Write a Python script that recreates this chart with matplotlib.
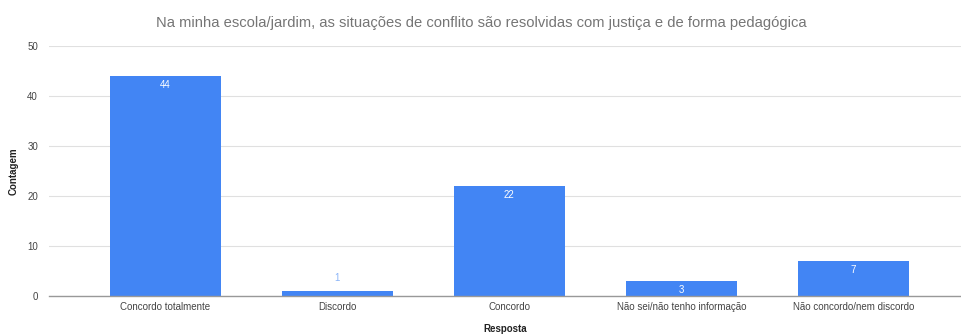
import matplotlib.pyplot as plt

categorias = ["Concordo totalmente", "Discordo", "Concordo",
              "Não sei/não tenho informação", "Não concordo/nem discordo"]
contagem = [44, 1, 22, 3, 7]
yticks = [0, 10, 20, 30, 40, 50]

plt.rcParams['font.family'] = ['Liberation Sans', 'DejaVu Sans']

fig = plt.figure(figsize=(9.62, 3.34), dpi=100)
ax = fig.add_axes([0.051, 0.1138, 0.949, 0.7485])

x = list(range(len(categorias)))
ax.bar(x, contagem, width=0.645, color="#4285F4", zorder=3)

for xi, v in zip(x, contagem):
    if v >= 3:
        ax.annotate(str(v), (xi, v), xytext=(0, -3), textcoords="offset points",
                    ha="center", va="top", fontsize=7, color="white", zorder=4)
    else:
        ax.annotate(str(v), (xi, v), xytext=(0, 6), textcoords="offset points",
                    ha="center", va="bottom", fontsize=7, color="#8AB4F8", zorder=4)

ax.set_xlim(-0.674, 4.63)
ax.set_ylim(0, 50)
ax.set_yticks(yticks)
ax.set_xticks(x)
ax.set_xticklabels(categorias)
ax.tick_params(axis="both", length=0, labelsize=7, labelcolor="#444444")
ax.tick_params(axis="x", pad=4)
ax.tick_params(axis="y", pad=8)

ax.grid(axis="y", color="#E0E0E0", linewidth=0.8, zorder=0)
for s in ["top", "right", "left"]:
    ax.spines[s].set_visible(False)
ax.spines["bottom"].set_color("#999999")
ax.spines["bottom"].set_linewidth(1.0)
ax.spines["bottom"].set_zorder(5)

ax.set_xlabel("Resposta", fontsize=7, fontweight="bold", color="#222222", labelpad=9)
ax.set_ylabel("Contagem", fontsize=7, fontweight="bold", color="#222222")
ax.yaxis.set_label_coords(-0.033, 0.5)

fig.text(0.5, 0.93, "Na minha escola/jardim, as situações de conflito são resolvidas com justiça e de forma pedagógica",
         ha="center", va="center", fontsize=10.6, color="#757575")

fig.savefig("out.png", dpi=100)
